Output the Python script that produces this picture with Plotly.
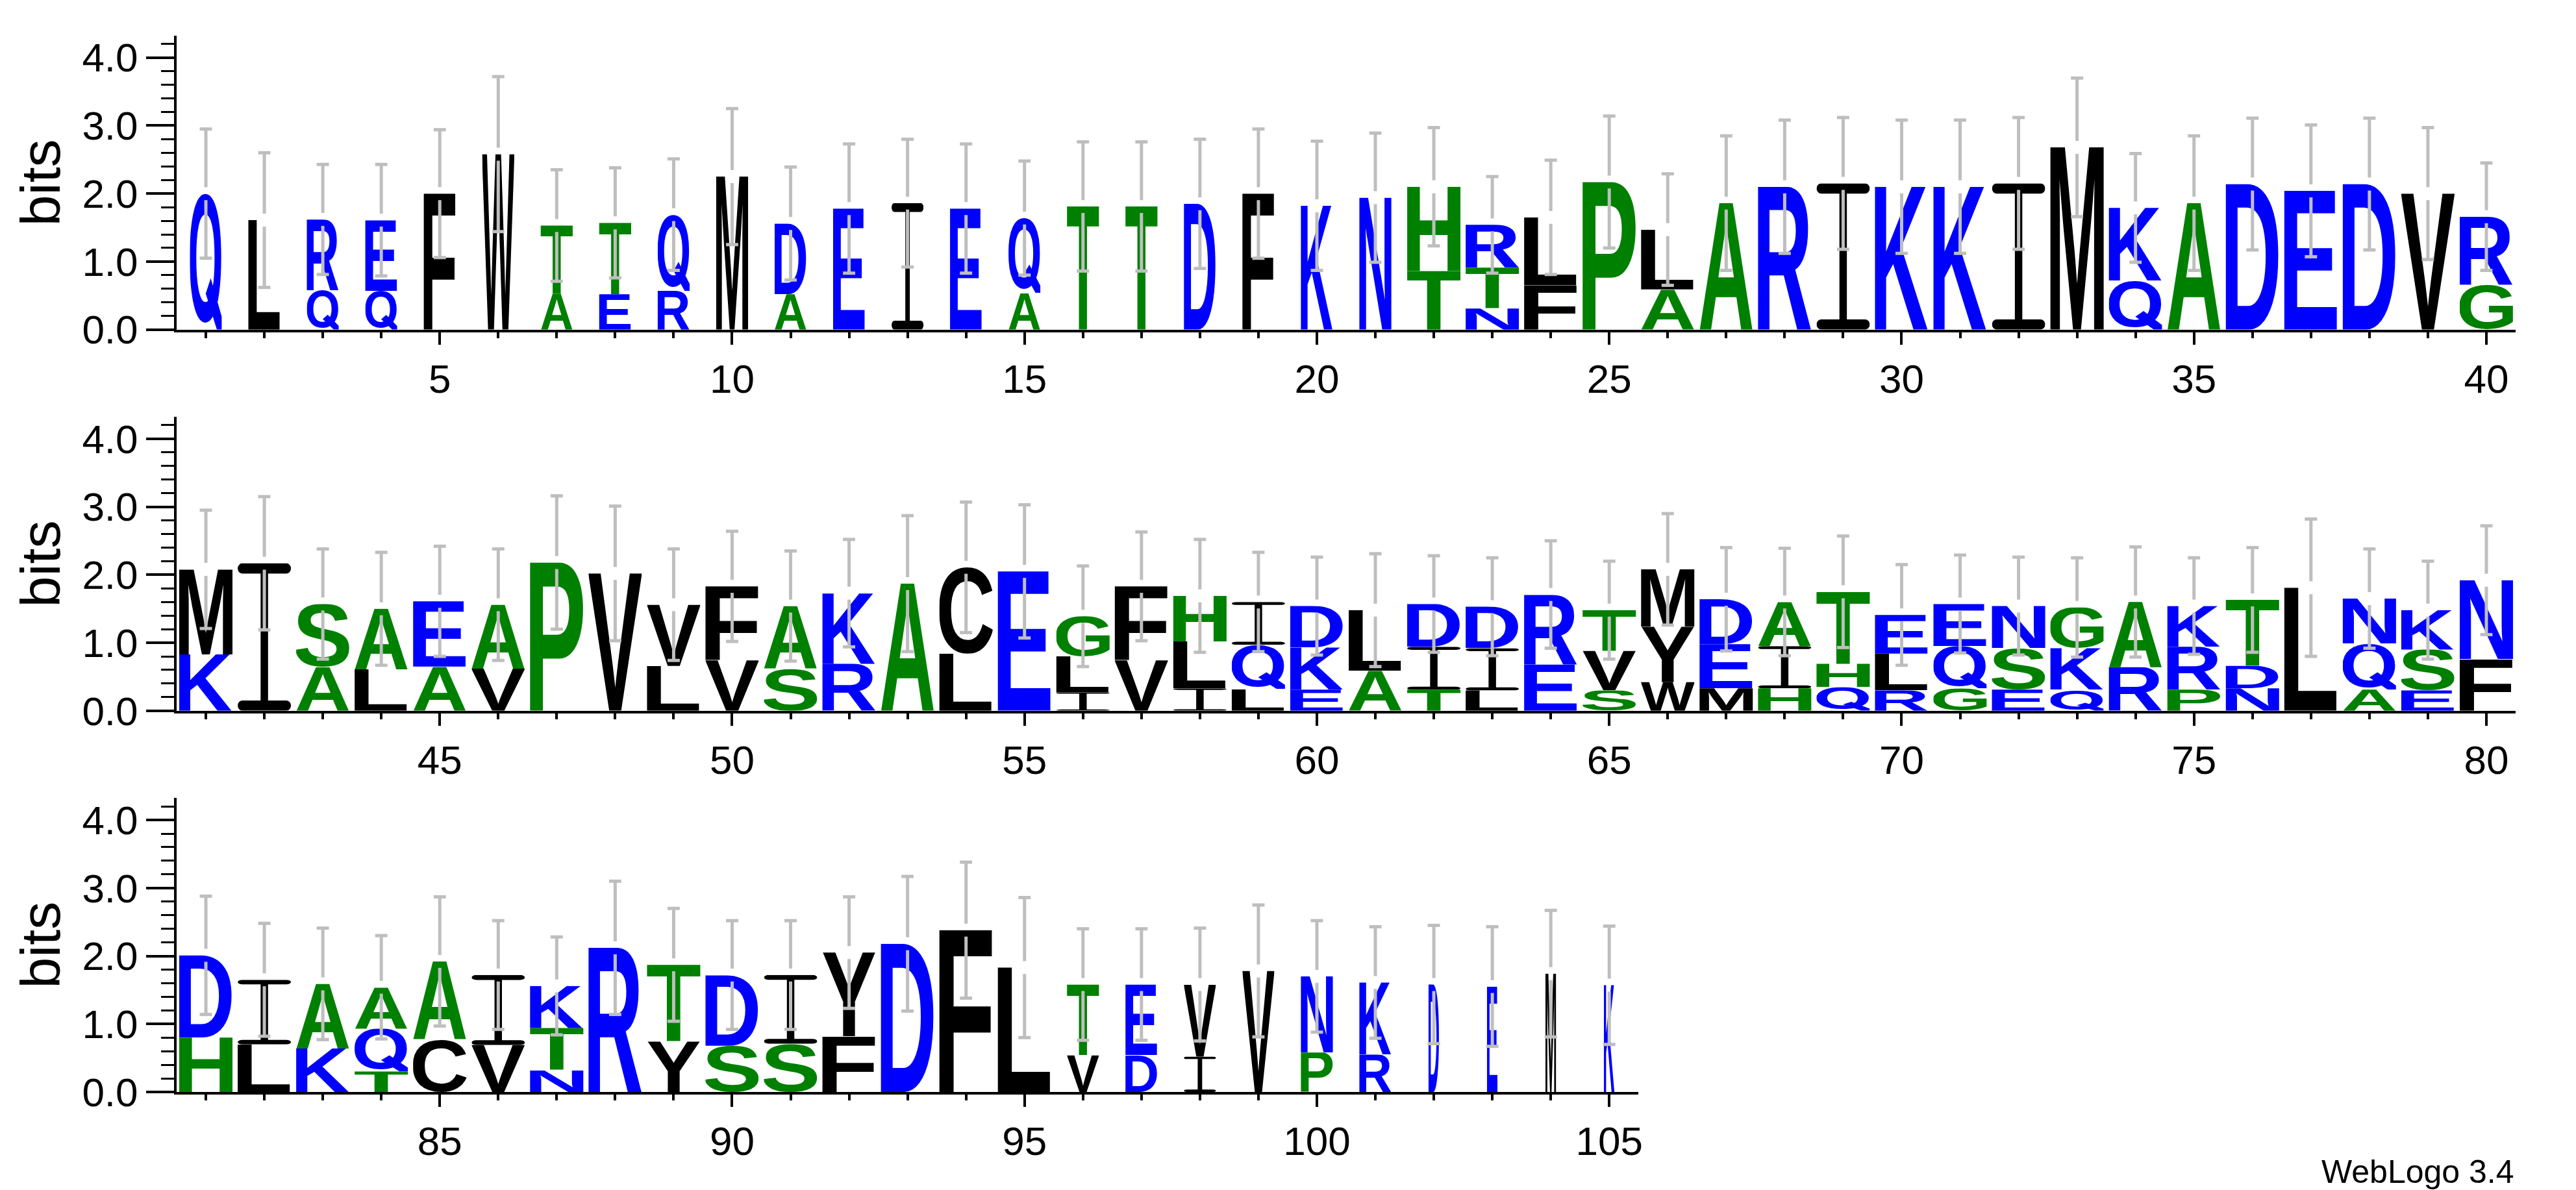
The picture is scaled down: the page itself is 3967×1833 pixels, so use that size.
import base64
import plotly.graph_objects as go

positions = list(range(1, 106))

# letters of each stack, bottom to top
stack_letters = [
    "Q", "L", "QR", "QE", "F", "W", "AT", "ET", "RQ", "M",
    "AD", "E", "I", "E", "AQ", "T", "T", "D", "F", "K",
    "N", "TH", "NTR", "FL", "P", "AL", "A", "R", "I", "K",
    "K", "I", "M", "QK", "A", "D", "E", "D", "V", "GR",
    "KM", "I", "AS", "LA", "AE", "VA", "P", "V", "LV", "VF",
    "SA", "RK", "A", "LC", "E", "ILG", "VF", "ILH", "LQI", "EKD",
    "AL", "TID", "LID", "ER", "SVT", "WYM", "MED", "HIA", "QHT", "RLE",
    "GQE", "ESN", "QKG", "RA", "PRK", "NDT", "L", "AQN", "ESK", "FN",
    "HD", "LI", "KA", "TQA", "CA", "VI", "NTK", "R", "YT", "SD",
    "SI", "FY", "D", "F", "L", "VT", "DE", "IV", "V", "PN",
    "RK", "D", "E", "M", "K",
]

# letter heights in bits, same order as stack_letters
stack_heights = [
    [2.00], [1.61], [0.58, 1.04], [0.57, 1.04], [2.00], [2.58], [0.53, 1.00], [0.52, 1.05], [0.57, 1.12], [2.25],
    [0.52, 1.04], [1.78], [1.86], [1.78], [0.54, 1.10], [1.81], [1.81], [1.85], [2.00], [1.82],
    [1.94], [0.86, 1.24], [0.31, 0.60, 0.63], [0.65, 1.00], [2.17], [0.59, 0.88], [1.86], [2.10], [2.15], [2.10],
    [2.10], [2.15], [2.68], [0.72, 1.07], [1.86], [2.14], [2.04], [2.14], [2.00], [0.66, 1.00],
    [0.83, 1.25], [2.17], [0.64, 0.93], [0.61, 0.89], [0.65, 0.96], [0.62, 0.94], [2.18], [2.02], [0.66, 0.90], [0.74, 1.09],
    [0.62, 0.92], [0.69, 1.04], [1.87], [0.84, 1.27], [2.05], [0.27, 0.53, 0.59], [0.74, 1.09], [0.33, 0.69, 0.67], [0.32, 0.65, 0.63], [0.31, 0.62, 0.61],
    [0.59, 0.89], [0.31, 0.63, 0.63], [0.30, 0.62, 0.61], [0.68, 1.03], [0.30, 0.58, 0.60], [0.42, 0.82, 0.84], [0.33, 0.65, 0.66], [0.33, 0.62, 0.65], [0.35, 0.34, 1.06], [0.30, 0.54, 0.57],
    [0.33, 0.62, 0.62], [0.31, 0.61, 0.62], [0.31, 0.61, 0.60], [0.64, 0.96], [0.31, 0.63, 0.60], [0.33, 0.33, 0.97], [1.81], [0.31, 0.68, 0.66], [0.30, 0.60, 0.58], [0.76, 1.16],
    [0.80, 1.21], [0.70, 0.95], [0.64, 0.95], [0.30, 0.63, 0.61], [0.77, 1.15], [0.69, 1.03], [0.32, 0.62, 0.62], [2.12], [0.74, 1.13], [0.68, 1.04],
    [0.71, 1.01], [0.82, 1.23], [2.18], [2.38], [1.83], [0.54, 1.04], [0.54, 1.04], [0.52, 1.06], [1.78], [0.58, 1.12],
    [0.55, 1.06], [1.58], [1.55], [1.74], [1.57],
]

# half length of the error bar (bits)
error_bits = [
    0.95, 0.99, 0.81, 0.82, 0.94, 1.14, 0.82, 0.81, 0.82, 1.00,
    0.83, 0.95, 0.94, 0.95, 0.84, 0.95, 0.95, 0.95, 0.95, 0.95,
    0.95, 0.87, 0.71, 0.84, 0.97, 0.82, 0.99, 0.98, 0.97, 0.98,
    0.98, 0.97, 1.02, 0.80, 0.99, 0.97, 0.97, 0.97, 0.97, 0.79,
    0.87, 0.98, 0.81, 0.83, 0.81, 0.82, 0.98, 0.99, 0.82, 0.81,
    0.81, 0.79, 1.00, 0.96, 0.98, 0.74, 0.80, 0.83, 0.73, 0.72,
    0.83, 0.71, 0.72, 0.79, 0.72, 0.82, 0.76, 0.79, 0.82, 0.74,
    0.72, 0.72, 0.73, 0.81, 0.71, 0.77, 1.01, 0.73, 0.72, 0.80,
    0.87, 0.83, 0.82, 0.76, 0.95, 0.80, 0.72, 0.98, 0.83, 0.80,
    0.80, 0.82, 0.99, 1.00, 1.03, 0.82, 0.82, 0.83, 0.97, 0.82,
    0.82, 0.87, 0.88, 0.93, 0.87,
]

# relative stack width (fraction of sequences occupying the column)
column_weight = [0.6] * 21 + [1.0] * 74 + [0.6] * 6 + [0.2] * 4

rows = [(1, 40), (41, 80), (81, 105)]
x_tick_labels = list(range(5, 106, 5))
y_tick_values = [0, 1, 2, 3, 4]
y_tick_labels = ["0.0", "1.0", "2.0", "3.0", "4.0"]
y_max = 4.3219  # log2(20)

# ---------------- style ----------------
W, H = 3967, 1833
PLOT_L, PLOT_R = 264, 3866
ROW_BOTTOMS = [500, 1087, 1674]
PX_PER_BIT = 104.7
PLOT_T = ROW_BOTTOMS[0] - y_max * PX_PER_BIT
PLOT_B = ROW_BOTTOMS[-1]
PLOT_H = PLOT_B - PLOT_T

BLUE, GREEN, BLACK = "#0000FF", "#008000", "#000000"
color_of = {}
for c in "DEKNQR":
    color_of[c] = BLUE
for c in "AGHPST":
    color_of[c] = GREEN
for c in "CFILMVWY":
    color_of[c] = BLACK

# glyph ink boxes for Liberation Sans Bold at 1000 units/em: x0, x1, y0, y1
CAP = 688
glyph_box = {
    "A": (22, 702, 0, CAP), "C": (45, 690, -12, 700), "D": (76, 690, 0, CAP),
    "E": (76, 636, 0, CAP), "F": (76, 582, 0, CAP), "G": (48, 716, -12, 700),
    "H": (74, 650, 0, CAP), "K": (76, 722, 0, CAP), "L": (76, 592, 0, CAP),
    "M": (72, 762, 0, CAP), "N": (74, 650, 0, CAP), "P": (76, 636, 0, CAP),
    "Q": (45, 750, -48, 700), "R": (76, 706, 0, CAP), "S": (40, 630, -12, 700),
    "T": (20, 592, 0, CAP), "V": (10, 658, 0, CAP), "W": (10, 935, 0, CAP),
    "Y": (12, 656, 0, CAP),
}
FONT = "Liberation Sans, Arial, sans-serif"

_cache = {}


def glyph_source(ch):
    if ch in _cache:
        return _cache[ch]
    col = color_of[ch]
    if ch == "I":
        svg = ('<svg xmlns="http://www.w3.org/2000/svg" viewBox="0 0 100 100" preserveAspectRatio="none">'
               f'<rect x="0" y="0" width="100" height="7" rx="9" ry="3.5" fill="{col}"/>'
               f'<rect x="43" y="3" width="14" height="94" fill="{col}"/>'
               f'<rect x="0" y="93" width="100" height="7" rx="9" ry="3.5" fill="{col}"/>'
               '</svg>')
    else:
        x0, x1, y0, y1 = glyph_box[ch]
        body = ch
        extra = ""
        if ch == "Q":
            # Helvetica-like Q: an O with a diagonal tail crossing the lower right of the bowl
            body = "O"
            extra = f'<polygon points="395,-150 505,-235 750,-20 750,48 640,48" fill="{col}"/>'
        svg = ('<svg xmlns="http://www.w3.org/2000/svg" '
               f'viewBox="{x0} {-y1} {x1 - x0} {y1 - y0}" preserveAspectRatio="none">'
               f'<text x="0" y="0" font-family="{FONT}" font-weight="bold" '
               f'font-size="1000" fill="{col}">{body}</text>{extra}</svg>')
    src = "data:image/svg+xml;base64," + base64.b64encode(svg.encode()).decode()
    _cache[ch] = src
    return src


FULL_LETTER = 82 / 90.05
GAP = 0.095       # bits left open around the top of the stack
CAP_HALF = 0.105  # half width of error-bar caps, in positions
ERR_COLOR = "#BEBEBE"
TICK_FONT = dict(family=FONT, size=62, color="black")


def yfrac(px):
    return (PLOT_B - px) / PLOT_H


fig = go.Figure()
images = []
row_len = rows[0][1] - rows[0][0] + 1

for r, (p0, p1) in enumerate(rows):
    sfx = "" if r == 0 else str(r + 1)
    xref, yref = "x" + sfx, "y" + sfx
    ex, ey = [], []
    for p in range(p0, p1 + 1):
        i = p - 1
        w = FULL_LETTER * column_weight[i]
        base = 0.0
        for ch, h in zip(stack_letters[i], stack_heights[i]):
            images.append(dict(source=glyph_source(ch), xref=xref, yref=yref,
                               x=p - w / 2, y=base + h, sizex=w, sizey=h,
                               xanchor="left", yanchor="top", sizing="stretch", layer="below"))
            base += h
        top, e = base, error_bits[i]
        ex += [p, p, None, p, p, None,
               p - CAP_HALF, p + CAP_HALF, None, p - CAP_HALF, p + CAP_HALF, None]
        ey += [top - e, top - GAP, None, top + GAP, top + e, None,
               top - e, top - e, None, top + e, top + e, None]
    fig.add_trace(go.Scatter(x=ex, y=ey, mode="lines", xaxis=xref, yaxis=yref,
                             line=dict(color=ERR_COLOR, width=5), hoverinfo="skip", showlegend=False))

    n = p1 - p0 + 1
    bottom = ROW_BOTTOMS[r]
    ydom = [yfrac(bottom), min(1.0, yfrac(bottom - y_max * PX_PER_BIT))]
    xdom = [0, n / row_len]
    fig.layout["xaxis" + sfx] = dict(
        domain=xdom, range=[p0 - 0.5, p1 + 0.5], anchor=yref,
        showline=True, linecolor="black", linewidth=4, showgrid=False, zeroline=False,
        ticks="outside", ticklen=19, tickwidth=4, tickcolor="black",
        tickmode="array", tickvals=[t for t in x_tick_labels if p0 <= t <= p1],
        ticktext=[str(t) for t in x_tick_labels if p0 <= t <= p1],
        tickfont=TICK_FONT,
        minor=dict(ticks="outside", ticklen=9, tickwidth=4, tickcolor="black",
                   tickmode="array", tickvals=list(range(p0, p1 + 1))),
    )
    fig.layout["yaxis" + sfx] = dict(
        domain=ydom, range=[0, y_max], anchor=xref,
        showline=True, linecolor="black", linewidth=4, showgrid=False, zeroline=False,
        ticks="outside", ticklen=43, tickwidth=4, tickcolor="black",
        tickmode="array", tickvals=y_tick_values, ticktext=y_tick_labels, tickfont=TICK_FONT,
        minor=dict(ticks="outside", ticklen=20, tickwidth=3, tickcolor="black",
                   tickmode="array", tickvals=[round(0.2 * k, 1) for k in range(1, 22) if k % 5]),
        automargin=True,
        title=dict(text="bits", font=dict(family=FONT, size=86, color="black"), standoff=6),
    )

fig.update_layout(
    images=images,
    width=W, height=H,
    margin=dict(l=PLOT_L, r=W - PLOT_R, t=PLOT_T, b=H - PLOT_B, autoexpand=False),
    paper_bgcolor="white", plot_bgcolor="white",
    showlegend=False,
    annotations=[dict(text="WebLogo 3.4", xref="paper", yref="paper", x=1.0, y=yfrac(1797),
                      xanchor="right", yanchor="middle", showarrow=False,
                      font=dict(family=FONT, size=50, color="black"))],
)

fig.write_html("out.html")
